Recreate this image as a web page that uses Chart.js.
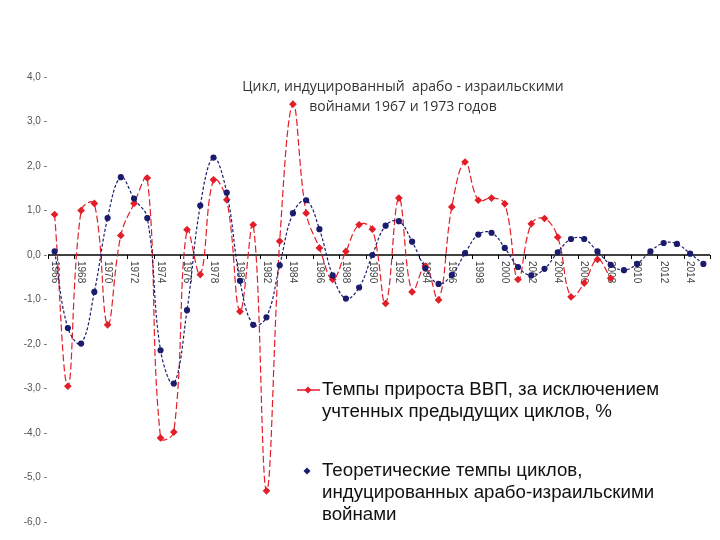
<!DOCTYPE html>
<html>
<head>
<meta charset="utf-8">
<script src="https://cdn.jsdelivr.net/npm/chart.js@4/dist/chart.umd.min.js"></script>
<style>
  html, body { margin: 0; padding: 0; background: #ffffff; }
  #wrap { position: relative; width: 720px; height: 540px; }
</style>
</head>
<body>
<div id="wrap"><canvas id="c" width="720" height="540"></canvas></div>
<script>
const years = [1966,1967,1968,1969,1970,1971,1972,1973,1974,1975,1976,1977,1978,1979,1980,1981,1982,1983,1984,1985,1986,1987,1988,1989,1990,1991,1992,1993,1994,1995,1996,1997,1998,1999,2000,2001,2002,2003,2004,2005,2006,2007,2008,2009,2010,2011,2012,2013,2014,2015];

const gdpGrowth = [0.91,-2.95,1.00,1.16,-1.57,0.44,1.16,1.73,-4.11,-3.98,0.57,-0.44,1.69,1.24,-1.27,0.68,-5.30,0.31,3.39,0.94,0.16,-0.55,0.08,0.68,0.58,-1.09,1.28,-0.83,-0.25,-1.01,1.08,2.09,1.23,1.28,1.15,-0.55,0.70,0.82,0.40,-0.94,-0.63,-0.10,-0.52,null,null,null,null,null,null,null];

const theoretical = [0.08,-1.64,-1.99,-0.83,0.83,1.75,1.27,0.83,-2.14,-2.89,-1.24,1.11,2.19,1.40,-0.58,-1.57,-1.40,-0.23,0.94,1.23,0.58,-0.46,-0.98,-0.73,0.00,0.66,0.76,0.30,-0.30,-0.65,-0.45,0.04,0.46,0.50,0.16,-0.27,-0.46,-0.31,0.06,0.36,0.36,0.08,-0.22,-0.34,-0.20,0.08,0.27,0.25,0.03,-0.20];

const yTicks = [4,3,2,1,0,-1,-2,-3,-4,-5,-6];

const titleLines = ['Цикл, индуцированный  арабо - израильскими', 'войнами 1967 и 1973 годов'];
const legendRed = ['Темпы прироста ВВП, за исключением', 'учтенных предыдущих циклов, %'];
const legendBlue = ['Теоретические темпы циклов,', 'индуцированных арабо-израильскими', 'войнами'];

const RED = '#e31e28';
const BLUE = '#1c1c6e';

const xAxisPlugin = {
  id: 'xAxisAtZero',
  beforeDatasetsDraw(chart) {
    const {ctx, chartArea, scales} = chart;
    const x = scales.x, y = scales.y;
    const y0 = y.getPixelForValue(0);
    ctx.save();
    ctx.strokeStyle = '#000';
    ctx.lineWidth = 1.5;
    ctx.beginPath();
    ctx.moveTo(chartArea.left, y0);
    ctx.lineTo(chartArea.right, y0);
    ctx.stroke();
    ctx.lineWidth = 1;
    const step = (x.getPixelForValue(1) - x.getPixelForValue(0));
    for (let i = 0; i <= years.length; i += 2) {
      const px = Math.round(x.getPixelForValue(0) - step / 2 + i * step) + 0.5;
      ctx.beginPath();
      ctx.moveTo(px, y0);
      ctx.lineTo(px, y0 + 4);
      ctx.stroke();
    }
    ctx.fillStyle = '#444';
    ctx.font = '10px "Liberation Sans", Arial, sans-serif';
    ctx.textAlign = 'left';
    ctx.textBaseline = 'middle';
    for (let i = 0; i < years.length; i += 2) {
      const px = x.getPixelForValue(i);
      ctx.save();
      ctx.translate(px, y0 + 6);
      ctx.rotate(Math.PI / 2);
      ctx.fillText(String(years[i]), 0, 0);
      ctx.restore();
    }
    ctx.restore();
  }
};

function diamond(ctx, cx, cy, r, color) {
  ctx.fillStyle = color;
  ctx.beginPath();
  ctx.moveTo(cx, cy - r);
  ctx.lineTo(cx + r, cy);
  ctx.lineTo(cx, cy + r);
  ctx.lineTo(cx - r, cy);
  ctx.closePath();
  ctx.fill();
}

const decorPlugin = {
  id: 'decor',
  afterDraw(chart) {
    const ctx = chart.ctx;
    ctx.save();
    // title
    ctx.fillStyle = '#333';
    ctx.font = '14px "Open Sans", sans-serif';
    ctx.textAlign = 'center';
    ctx.textBaseline = 'middle';
    ctx.fillText(titleLines[0], 403, 87);
    ctx.fillText(titleLines[1], 403, 107);
    // legend
    ctx.strokeStyle = RED;
    ctx.lineWidth = 1.5;
    ctx.beginPath();
    ctx.moveTo(297, 390);
    ctx.lineTo(320, 390);
    ctx.stroke();
    diamond(ctx, 308, 390, 3.5, RED);
    diamond(ctx, 307, 471, 3.5, BLUE);
    ctx.fillStyle = '#111';
    ctx.font = '18.7px "Liberation Sans", Arial, sans-serif';
    ctx.textAlign = 'left';
    ctx.fillText(legendRed[0], 322, 390);
    ctx.fillText(legendRed[1], 322, 412);
    ctx.fillText(legendBlue[0], 322, 471);
    ctx.fillText(legendBlue[1], 322, 493);
    ctx.fillText(legendBlue[2], 322, 515);
    ctx.restore();
  }
};

new Chart(document.getElementById('c'), {
  type: 'line',
  data: {
    labels: years,
    datasets: [
      {
        label: legendRed.join(' '),
        data: gdpGrowth,
        borderColor: RED,
        backgroundColor: RED,
        borderWidth: 1.2,
        borderDash: [7, 3],
        tension: 0.4,
        pointStyle: 'rectRot',
        pointRadius: 3,
        pointBackgroundColor: RED,
        pointBorderColor: RED,
        spanGaps: false,
        order: 2
      },
      {
        label: legendBlue.join(' '),
        data: theoretical,
        borderColor: BLUE,
        backgroundColor: BLUE,
        borderWidth: 1.2,
        borderDash: [3, 2],
        tension: 0.4,
        pointStyle: 'circle',
        pointRadius: 2.5,
        pointBackgroundColor: BLUE,
        pointBorderColor: BLUE,
        order: 1
      }
    ]
  },
  options: {
    responsive: false,
    animation: false,
    layout: { padding: { left: 8, right: 10, top: 77, bottom: 18 } },
    plugins: {
      legend: { display: false },
      tooltip: { enabled: false },
      title: { display: false }
    },
    scales: {
      x: {
        type: 'category',
        offset: true,
        display: false
      },
      y: {
        min: -6,
        max: 4,
        afterFit(scale) { scale.width = 40; },
        afterBuildTicks(scale) { scale.ticks = yTicks.map(v => ({ value: v })); },
        grid: { display: false, drawTicks: false, tickLength: 0 },
        border: { display: false },
        ticks: {
          padding: 1,
          color: '#555',
          font: { family: '"Liberation Sans", Arial, sans-serif', size: 10 },
          callback: (v) => v.toFixed(1).replace('.', ',') + ' -'
        }
      }
    }
  },
  plugins: [xAxisPlugin, decorPlugin]
});
</script>
</body>
</html>
